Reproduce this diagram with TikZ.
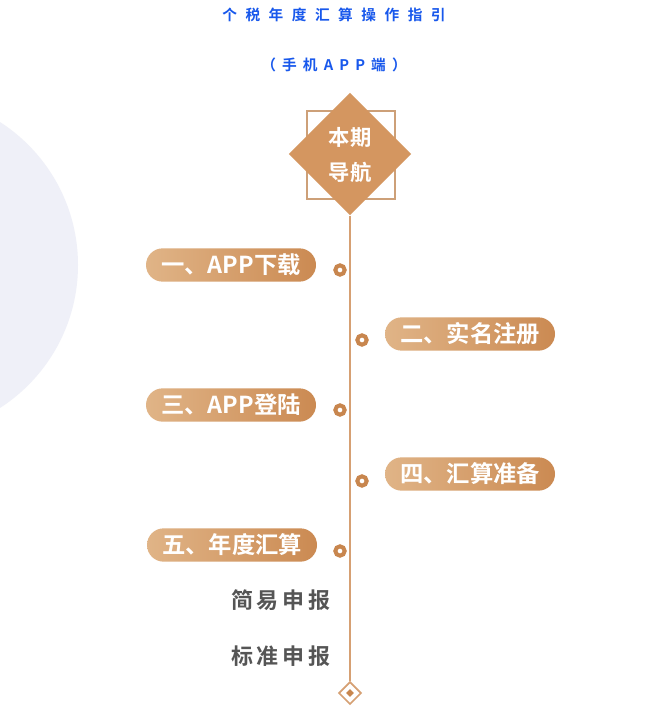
\documentclass[tikz,border=0pt]{standalone}
\usepackage{fontspec}
\usepackage{xcolor}
\usetikzlibrary{shapes.geometric}
\newfontfamily\cjk{Noto Sans CJK SC}
\newfontfamily\cjkbold{Noto Sans CJK SC Bold}
\newfontfamily\titlefont[LetterSpace=58]{Noto Sans CJK SC Bold}
\newfontfamily\subtitlefont[LetterSpace=42]{Noto Sans CJK SC Bold}
\newfontfamily\graytext[LetterSpace=17]{Noto Sans CJK SC Bold}

\definecolor{titleblue}{RGB}{24,88,236}
\definecolor{tan}{RGB}{214,160,115}
\definecolor{framec}{RGB}{205,160,120}
\definecolor{navfill}{RGB}{212,150,96}
\definecolor{pillL}{RGB}{224,180,135}
\definecolor{pillR}{RGB}{203,138,82}
\definecolor{ringc}{RGB}{200,134,78}
\definecolor{bgcircle}{RGB}{239,240,248}
\definecolor{subgray}{RGB}{85,85,85}

\begin{document}
\begin{tikzpicture}[x=0.75pt,y=0.75pt,yscale=-1,xscale=1,
  pill/.style={rounded corners=12.5pt, minimum width=127.5pt, minimum height=25pt, inner sep=0pt,
    left color=pillL, right color=pillR, text=white, font=\cjkbold\fontsize{17.5}{19}\selectfont},
  ring/.style={circle, draw=ringc, fill=white, line width=3pt, minimum size=7pt, inner sep=0pt},
  subitem/.style={text=subgray, font=\graytext\fontsize{16.5}{18}\selectfont, anchor=west, inner sep=0pt}]
\useasboundingbox (0,0) rectangle (649,716);
\fill[white] (0,0) rectangle (649,716);

% background circle
\begin{scope}
\clip (0,0) rectangle (649,716);
\fill[bgcircle] (-92,265) circle (170);
\end{scope}

% Title
\node[text=titleblue, font=\titlefont\fontsize{11}{13}\selectfont] (title) at (334,15) {个税年度汇算操作指引};
\node[text=titleblue, font=\subtitlefont\fontsize{11}{13}\selectfont] (subtitle) at (334,65) {（手机APP端）};

% Navigation diamond
\node[draw=framec, line width=0.8pt, minimum size=66pt, inner sep=0pt] (frame) at (351,155) {};
\node[diamond, fill=navfill, minimum width=92pt, minimum height=92pt, inner sep=0pt] (nav) at (350,154) {};
\node[text=white, align=center, font=\cjkbold\fontsize{16}{26}\selectfont] (navtext) at (350,155) {本期\\导航};

% Timeline
\node[diamond, draw=tan, line width=1.3pt, fill=white, minimum width=17pt, minimum height=17pt, inner sep=0pt] (end) at (350,693) {};
\node[diamond, fill=ringc, minimum width=6pt, minimum height=6pt, inner sep=0pt] (enddot) at (350,693) {};
\draw[tan, line width=1.2pt] (nav.south) -- (end.north);

% Steps
\node[pill] (s1) at (231,265) {一、APP下载};
\node[pill] (s2) at (470,334) {二、实名注册};
\node[pill] (s3) at (231,405) {三、APP登陆};
\node[pill] (s4) at (470,474) {四、汇算准备};
\node[pill] (s5) at (232,545) {五、年度汇算};

% Rings
\node[ring] (r1) at (340,270) {};
\node[ring] (r2) at (362,340) {};
\node[ring] (r3) at (340,410) {};
\node[ring] (r4) at (362,481) {};
\node[ring] (r5) at (340,551) {};

% Sub items
\node[subitem] (simple) at (231,600) {简易申报};
\node[subitem] (standard) at (231,656) {标准申报};

\end{tikzpicture}
\end{document}
